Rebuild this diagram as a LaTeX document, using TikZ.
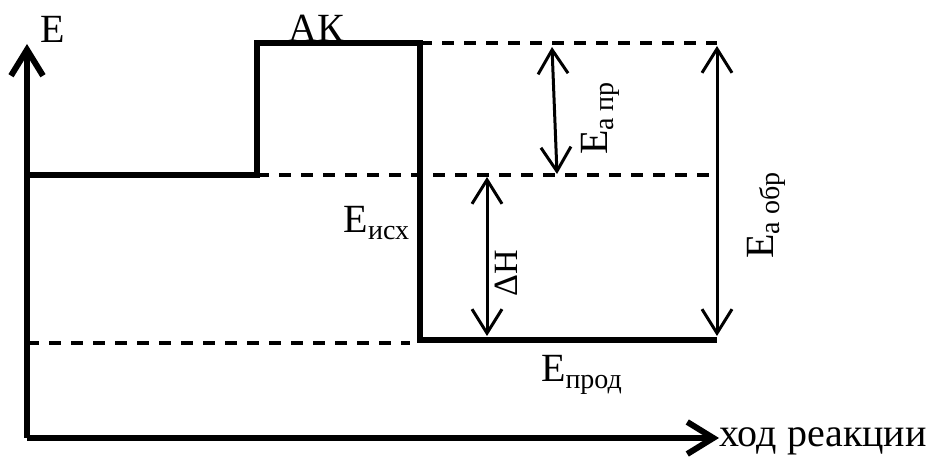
\documentclass[tikz,border=0pt]{standalone}
\usepackage{fontspec}
\setmainfont{Liberation Serif}
\usetikzlibrary{arrows.meta}

\tikzset{
	level/.style={line width=3pt, line join=miter},
	guide/.style={line width=2pt, dash pattern=on 6pt off 5pt},
	axis/.style={line width=3pt, -{Straight Barb[length=13pt,width=16pt,line width=3pt]}},
	gap/.style={line width=1.5pt,
		{Straight Barb[length=12pt,width=15pt]}-{Straight Barb[length=12pt,width=15pt]}},
	lbl/.style={font=\fontsize{20}{22}\selectfont, inner sep=0pt},
}

\begin{document}
\begin{tikzpicture}[x=0.5pt,y=-0.5pt]
	\useasboundingbox (0,0) rectangle (936,458);

	% Osi
	\coordinate (O) at (27,438);
	\coordinate (Ytop) at (27,44);
	\coordinate (Xend) at (719,438);
	\draw[axis] (O) -- (Ytop);
	\draw[axis] (O) -- (Xend);
	\node[lbl, anchor=base] (Elab) at (53,43) {E};
	\node[lbl, anchor=base west] (hod) at (719,447) {ход реакции};

	% Urovni energii
	\coordinate (S0) at (27,175);
	\coordinate (S1) at (257,175);
	\coordinate (K1) at (257,43);
	\coordinate (K2) at (420,43);
	\coordinate (P1) at (420,340);
	\coordinate (P2) at (717,340);
	\draw[level] (S0) -- (S1) -- (K1) -- (K2) -- (P1) -- (P2);

	% Vspomogatelnye linii
	\coordinate (KR) at (717,43);
	\coordinate (SR) at (717,175);
	\coordinate (PL) at (27,343);
	\coordinate (PM) at (410,343);
	\draw[guide] (K2) -- (KR);
	\draw[guide] (S1) -- (SR);
	\draw[guide] (PL) -- (PM);

	% Strelki
	\coordinate (A1) at (552,47);
	\coordinate (A2) at (557,174);
	\coordinate (H1) at (487,177);
	\coordinate (H2) at (487,336);
	\coordinate (B1) at (717,46);
	\coordinate (B2) at (717,336);
	\draw[gap] (A1) -- (A2);
	\draw[gap] (H1) -- (H2);
	\draw[gap] (B1) -- (B2);

	% Podpisi
	\node[lbl, anchor=base] (AK) at (316,42) {АК};
	\node[lbl, anchor=base] (Eish) at (377,233) {E\textsubscript{исх}};
	\node[lbl, anchor=base] (Eprod) at (582,382) {E\textsubscript{прод}};
	\node[lbl, rotate=90] (Eapr) at (600,118) {E\textsubscript{а пр}};
	\node[lbl, rotate=90, font=\fontsize{17}{19}\selectfont] (dH) at (506,273) {ΔH};
	\node[lbl, rotate=90] (Eaobr) at (766,215) {E\textsubscript{а обр}};
\end{tikzpicture}
\end{document}
